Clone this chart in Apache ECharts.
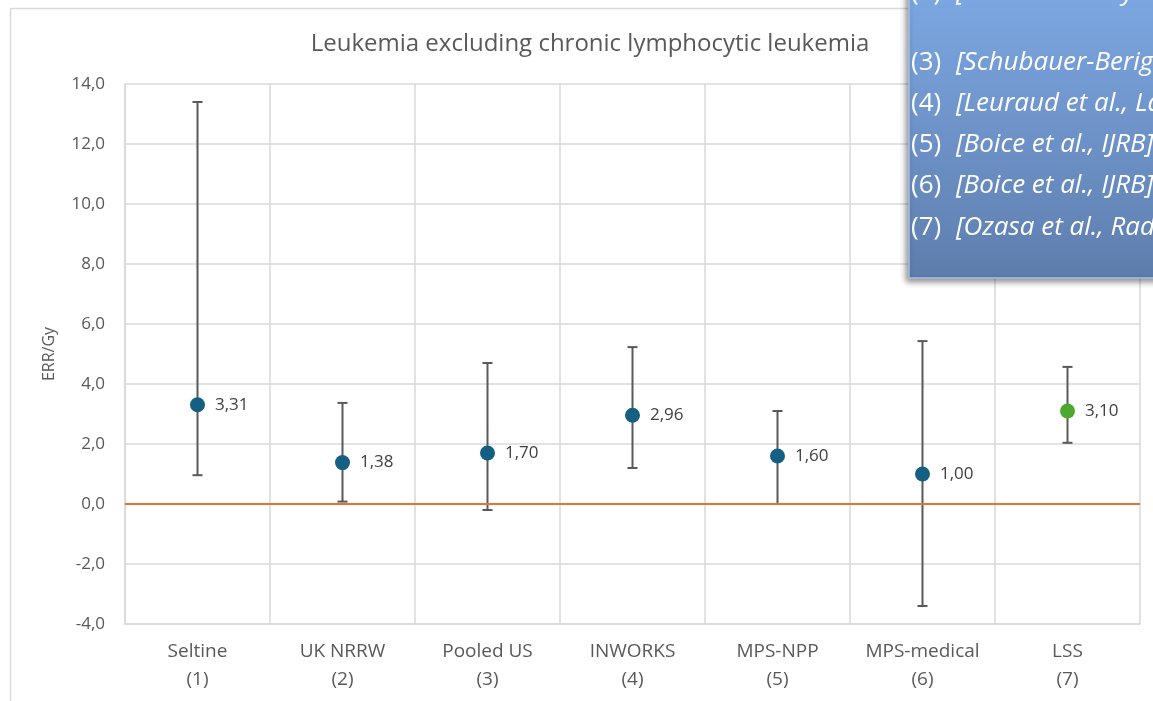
<!DOCTYPE html>
<html>
<head>
<meta charset="utf-8">
<script src="https://cdn.jsdelivr.net/npm/echarts@6/dist/echarts.min.js"></script>
<style>
html,body{margin:0;padding:0;background:#fff;}
#c{width:1153px;height:701px;}
</style>
</head>
<body>
<div id="c"></div>
<script>
var categories = ['Seltine', 'UK NRRW', 'Pooled US', 'INWORKS', 'MPS-NPP', 'MPS-medical', 'LSS'];
var refNumbers = ['(1)', '(2)', '(3)', '(4)', '(5)', '(6)', '(7)'];
var errValues = [3.31, 1.38, 1.70, 2.96, 1.60, 1.00, 3.10];
var ciLower = [0.96, 0.08, -0.20, 1.20, 0.00, -3.40, 2.04];
var ciUpper = [13.40, 3.37, 4.70, 5.23, 3.10, 5.43, 4.57];
var yTicks = { min: -4, max: 14, interval: 2 };
var referenceLines = [
  { num: '(2)', text: '[Gillies and Haylock, J. Radiol. Prot.]' },
  { num: '', text: '' },
  { num: '(3)', text: '[Schubauer-Berig et al., Radiat. Res.]' },
  { num: '(4)', text: '[Leuraud et al., Lancet Haematol.]' },
  { num: '(5)', text: '[Boice et al., IJRB]' },
  { num: '(6)', text: '[Boice et al., IJRB]' },
  { num: '(7)', text: '[Ozasa et al., Radiat. Res.]' }
];

var FONT = '"Open Sans", sans-serif';
var pointColors = errValues.map(function (v, i) { return i === 6 ? '#4ea72e' : '#156082'; });

var chart = echarts.init(document.getElementById('c'));

var boxGraphics = [];
boxGraphics.push({
  type: 'rect', z: 100,
  shape: { x: 909, y: -12, width: 320, height: 290 },
  style: {
    fill: new echarts.graphic.LinearGradient(0, 0, 0, 1, [
      { offset: 0, color: '#7da8e3' },
      { offset: 1, color: '#5e7dad' }
    ]),
    stroke: '#a9c0e6', lineWidth: 1.5,
    shadowBlur: 6, shadowColor: 'rgba(0,0,0,0.45)', shadowOffsetX: -2, shadowOffsetY: 3
  }
});
var lineYs = [-7, 22, 63, 104, 145, 186, 228];
referenceLines.forEach(function (r, i) {
  if (!r.num) return;
  boxGraphics.push({
    type: 'text', z: 101, x: 911, y: lineYs[i],
    style: { text: r.num, fill: '#ffffff', font: '26px ' + FONT, verticalAlign: 'middle', align: 'left' }
  });
  boxGraphics.push({
    type: 'text', z: 101, x: 956, y: lineYs[i],
    style: { text: r.text, fill: '#ffffff', font: 'italic 26px ' + FONT, verticalAlign: 'middle', align: 'left' }
  });
});

var option = {
  animation: false,
  backgroundColor: '#ffffff',
  title: {
    text: 'Leukemia excluding chronic lymphocytic leukemia',
    left: 585, top: 27, textAlign: 'center',
    textStyle: { fontFamily: FONT, fontSize: 24, fontWeight: 'normal', color: '#595959' }
  },
  grid: { left: 125, right: 13, top: 84, bottom: 77, containLabel: false },
  xAxis: {
    type: 'category',
    data: categories.map(function (c, i) { return c + '\n' + refNumbers[i]; }),
    boundaryGap: true,
    axisLine: { onZero: false, lineStyle: { color: '#d9d9d9', width: 1.5 } },
    axisTick: { show: false },
    splitLine: { show: true, lineStyle: { color: '#d9d9d9', width: 1.5 } },
    axisLabel: { color: '#595959', fontFamily: FONT, fontSize: 19, lineHeight: 28, margin: 14, interval: 0 }
  },
  yAxis: {
    type: 'value',
    min: yTicks.min, max: yTicks.max, interval: yTicks.interval,
    name: 'ERR/Gy', nameLocation: 'middle', nameGap: 68, nameRotate: 90,
    nameTextStyle: { color: '#595959', fontFamily: FONT, fontSize: 16 },
    axisLine: { show: true, lineStyle: { color: '#d9d9d9', width: 1.5 } },
    axisTick: { show: false },
    splitLine: { show: true, lineStyle: { color: '#d9d9d9', width: 1.5 } },
    axisLabel: {
      color: '#595959', fontFamily: FONT, fontSize: 17, margin: 20,
      formatter: function (v) { return v.toFixed(1).replace('.', ','); }
    }
  },
  series: [
    {
      type: 'custom', z: 2,
      data: categories.map(function (c, i) { return [i, ciLower[i], ciUpper[i]]; }),
      renderItem: function (params, api) {
        var x = api.value(0);
        var lo = api.coord([x, api.value(1)]);
        var hi = api.coord([x, api.value(2)]);
        var hw = 5;
        var st = { stroke: '#595959', lineWidth: 2 };
        return {
          type: 'group',
          children: [
            { type: 'line', shape: { x1: lo[0], y1: lo[1], x2: hi[0], y2: hi[1] }, style: st },
            { type: 'line', shape: { x1: lo[0] - hw, y1: lo[1], x2: lo[0] + hw, y2: lo[1] }, style: st },
            { type: 'line', shape: { x1: hi[0] - hw, y1: hi[1], x2: hi[0] + hw, y2: hi[1] }, style: st }
          ]
        };
      },
      markLine: {
        silent: true, symbol: 'none',
        lineStyle: { color: '#e97132', width: 2, type: 'solid' },
        label: { show: false },
        data: [{ yAxis: 0 }]
      }
    },
    {
      type: 'scatter', z: 5,
      symbolSize: 15,
      itemStyle: { opacity: 1 },
      data: errValues.map(function (v, i) {
        return { value: [i, v], itemStyle: { color: pointColors[i], opacity: 1 } };
      }),
      label: {
        show: true, position: 'right', distance: 10,
        color: '#404040', fontFamily: FONT, fontSize: 17,
        formatter: function (p) { return p.value[1].toFixed(2).replace('.', ','); }
      }
    }
  ],
  graphic: [
    {
      type: 'rect', z: 0, silent: true,
      shape: { x: 10.5, y: 8.5, width: 1200, height: 800 },
      style: { fill: 'none', stroke: '#d9d9d9', lineWidth: 1.5 }
    }
  ].concat(boxGraphics)
};
chart.setOption(option);
</script>
</body>
</html>
